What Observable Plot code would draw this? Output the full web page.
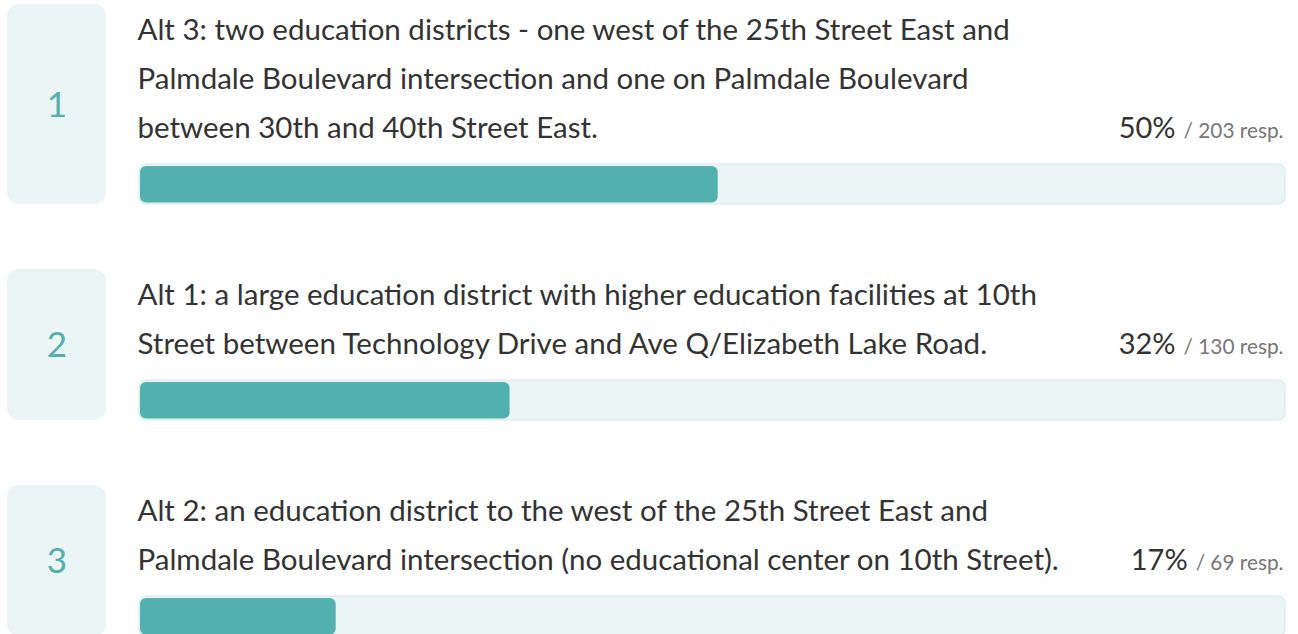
<!DOCTYPE html>
<html><head><meta charset="utf-8">
<script src="https://cdn.jsdelivr.net/npm/d3@7"></script>
<script src="https://cdn.jsdelivr.net/npm/@observablehq/plot@0.6"></script>
<style>body{margin:0;background:#fff}</style>
</head><body><div id="chart"></div>
<script>
// ---- data ----
const ranks = [1, 2, 3];
const labels = [
  "Alt 3: two education districts - one west of the 25th Street East and\nPalmdale Boulevard intersection and one on Palmdale Boulevard\nbetween 30th and 40th Street East.",
  "Alt 1: a large education district with higher education facilities at 10th\nStreet between Technology Drive and Ave Q/Elizabeth Lake Road.",
  "Alt 2: an education district to the west of the 25th Street East and\nPalmdale Boulevard intersection (no educational center on 10th Street)."
];
const percents = [50, 32, 17];
const responses = [203, 130, 69];

// ---- layout (styles) ----
const W = 1298, H = 634;
const FONT = "Lato, 'Noto Sans', sans-serif";
const teal = "#52b0ae", pale = "#ebf5f6", paleStroke = "#d4ebec";
const LINE = 49, TOP0 = 4, GAP = 65, FIRST = 35, AFTER = 27, TRACK = 40;
const RESP_SIZE = 20.8, PCT_SIZE = 29;
const total = d3.sum(responses);

const rows = [];
let yTop = TOP0;
ranks.forEach((r, i) => {
  const lines = labels[i].split("\n");
  const n = lines.length;
  const h = FIRST + LINE * (n - 1) + AFTER + TRACK;
  rows.push({
    rank: r, lines, y0: yTop, y1: yTop + h,
    lastBase: yTop + FIRST + LINE * (n - 1),
    share: responses[i] / total,
    pct: percents[i] + "%", resp: `/ ${responses[i]} resp.`
  });
  yTop += h + GAP;
});
const lineData = rows.flatMap(r => r.lines.map((t, j) => ({t, y: r.y0 + FIRST + LINE * j})));

const ctx = document.createElement("canvas").getContext("2d");
ctx.font = `${RESP_SIZE}px Lato`;
rows.forEach(r => r.respW = ctx.measureText(r.resp).width);

const plot = Plot.plot({
  width: W, height: H,
  margin: 0,
  style: {fontFamily: FONT, background: "#fff"},
  x: {domain: [0, 1], range: [139, 1285], axis: null},
  y: {type: "identity", axis: null},
  marks: [
    // rank boxes
    Plot.rect(rows, {y1: "y0", y2: "y1", fill: pale, rx: 12, insetLeft: 7, insetRight: W - 106}),
    Plot.text(rows, {y: d => (d.y0 + d.y1) / 2 + 1, text: "rank", frameAnchor: "left", dx: 56.5, textAnchor: "middle",
      fill: teal, fontSize: 35, fontWeight: 400, lineAnchor: "middle"}),
    // labels
    Plot.text(lineData, {y: "y", text: "t", frameAnchor: "left", dx: 137, textAnchor: "start", lineAnchor: "bottom",
      fill: "#333", fontSize: 29.5}),
    // track
    Plot.rect(rows, {x1: 0, x2: 1, y1: d => d.y1 - TRACK, y2: "y1", fill: pale, stroke: paleStroke, strokeWidth: 1.2, rx: 7}),
    // filled bar
    Plot.rect(rows, {x1: 0, x2: "share", y1: d => d.y1 - TRACK + 2, y2: d => d.y1 - 1.5, fill: teal, rx: 6, insetLeft: 1}),
    // responses
    Plot.text(rows, {x: 1, y: "lastBase", text: "resp", textAnchor: "end", lineAnchor: "bottom", dx: -2,
      fill: "#777", fontSize: RESP_SIZE}),
    // percentages, placed left of each response text
    ...rows.map(r => Plot.text([r], {x: 1, y: "lastBase", text: "pct", textAnchor: "end", lineAnchor: "bottom",
      dx: -(r.respW + 10), fill: "#333", fontSize: PCT_SIZE}))
  ]
});
document.getElementById("chart").append(plot);
</script></body></html>
